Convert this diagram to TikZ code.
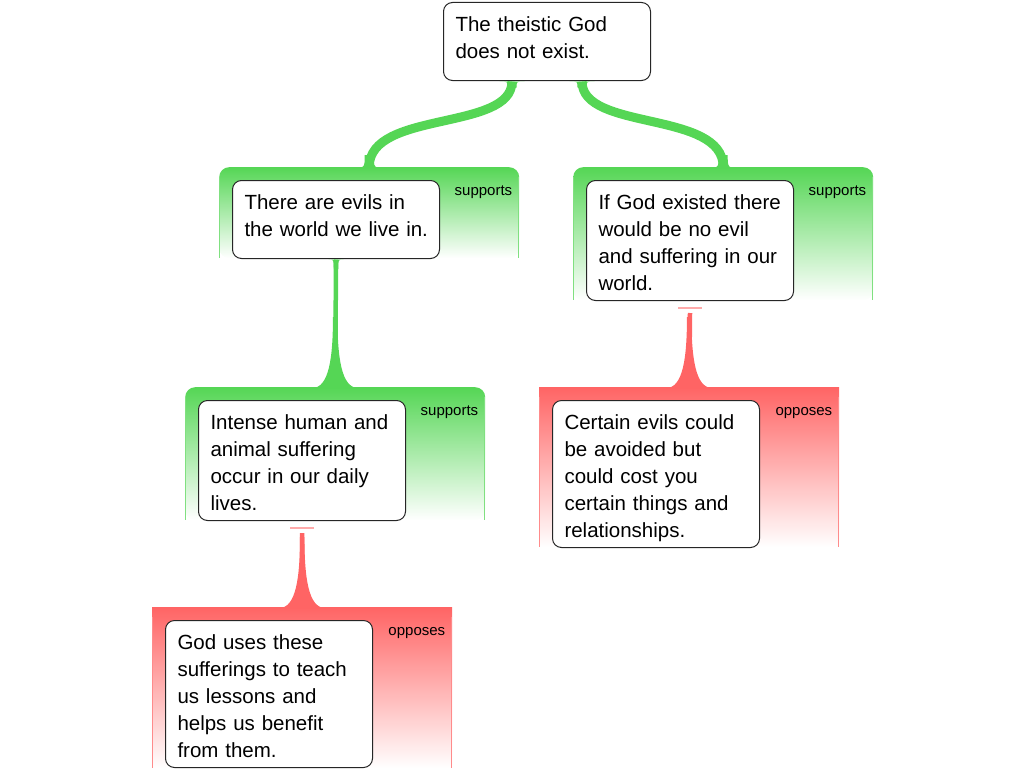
\documentclass[tikz,border=0pt]{standalone}
\usepackage{fontspec}
\setmainfont{Liberation Sans}
\usepackage{tikz}
\definecolor{supgreen}{RGB}{85,214,85}
\definecolor{oppred}{RGB}{255,100,100}
\newcommand{\boxfont}{\fontsize{20.5}{27}\selectfont}
\newcommand{\tagfont}{\fontsize{15}{18}\selectfont}
\newcommand{\topgap}{\rule{0pt}{24pt}}
\newcommand{\botgap}[1][5pt]{\rule[-#1]{0pt}{#1}}

\begin{document}
\begin{tikzpicture}[x=1pt,y=-1pt,
	argbox/.style={draw=black!85,line width=1pt,fill=white,rounded corners=9,anchor=north west,text width=183,align=left,inner xsep=12,inner ysep=5,minimum height=78,font=\boxfont},
	panel/.style={anchor=north west,minimum width=300,inner sep=0},
	suppanel/.style={panel,top color=supgreen,bottom color=white,rounded corners=10},
	opppanel/.style={panel,top color=oppred,bottom color=white},
	tag/.style={anchor=base east,inner sep=0,font=\tagfont},
	supline/.style={draw=supgreen,line width=9},
	tbar/.style={draw=oppred!55,line width=2}]
	\useasboundingbox (0,0) rectangle (1024,768);

	% panels behind the claims
	\node[suppanel,minimum height=91] (p1) at (219,167) {};
	\node[suppanel,minimum height=133] (p2) at (573,167) {};
	\node[suppanel,minimum height=133] (p3) at (185,387) {};
	\node[opppanel,minimum height=161] (p4) at (152,607) {};
	\node[opppanel,minimum height=160] (p5) at (539,387) {};
	\foreach \p/\c in {p1/supgreen,p2/supgreen,p3/supgreen,p4/oppred,p5/oppred}{
		\draw[draw=\c!75,line width=1] ([shift={(0.5,10)}]\p.north west) -- ([shift={(0.5,0)}]\p.south west);
		\draw[draw=\c!75,line width=1] ([shift={(-0.5,10)}]\p.north east) -- ([shift={(-0.5,0)}]\p.south east);
	}
	\foreach \p/\t in {p1/supports,p2/supports,p3/supports,p4/opposes,p5/opposes}
		\node[tag] (\p-tag) at ([shift={(-7,28)}]\p.north east) {\t};

	\node[argbox] (claim) at (443,2) {\topgap The theistic God\\does not exist.\botgap[17pt]};
	\node[argbox] (evils) at ([shift={(13,13)}]p1.north west) {\topgap There are evils in\\\mbox{the world we live in.}\botgap[17pt]};
	\node[argbox] (nogod) at ([shift={(13,13)}]p2.north west) {\topgap \mbox{If God existed there}\\would be no evil\\and suffering in our\\world.\botgap};
	\node[argbox] (pain) at ([shift={(13,13)}]p3.north west) {\topgap Intense human and\\animal suffering\\occur in our daily\\lives.\botgap};
	\node[argbox] (teach) at ([shift={(13,13)}]p4.north west) {\topgap God uses these\\sufferings to teach\\us lessons and\\helps us benefit\\from them.\botgap};
	\node[argbox] (cost) at ([shift={(13,13)}]p5.north west) {\topgap Certain evils could\\be avoided but\\could cost you\\certain things and\\relationships.\botgap};

	% supports links
	\coordinate (ct1) at ([shift={(-35,0.5)}]claim.south);
	\coordinate (ct2) at ([shift={(35,0.5)}]claim.south);
	\draw[supline] (ct1) .. controls +(0,50) and +(0,-57) .. (p1.north);
	\draw[supline] (ct2) .. controls +(0,50) and +(0,-57) .. (p2.north);
	\foreach \c in {ct1,ct2}
		\fill[supgreen,shift={(\c)}] (-12.5,0) .. controls (-4.5,0) .. (-4.5,6) -- (4.5,6) .. controls (4.5,0) .. (12.5,0) -- cycle;
	\foreach \p in {p1,p2}
		\fill[supgreen,shift={(\p.north)}] (-17,1) .. controls (-4.5,1) .. (-4.5,-12) -- (4.5,-12) .. controls (4.5,1) .. (17,1) -- cycle;

	\draw[supgreen,line width=4.5] ([shift={(0,0.5)}]evils.south) -- (p3.north);
	\fill[supgreen,shift={(evils.south)}] (-7.5,0.5) .. controls (-2.25,0.5) .. (-2.25,10) -- (2.25,10) .. controls (2.25,0.5) .. (7.5,0.5) -- cycle;

	% opposes links
	\draw[tbar] ([shift={(-12,7)}]pain.south) -- ([shift={(12,7)}]pain.south);
	\draw[oppred,line width=4.5] ([shift={(0,12)}]pain.south) -- (p4.north);
	\draw[tbar] ([shift={(-12,7)}]nogod.south) -- ([shift={(12,7)}]nogod.south);
	\draw[oppred,line width=4.5] ([shift={(0,12)}]nogod.south) -- (p5.north);

	\foreach \p/\c in {p3/supgreen,p4/oppred,p5/oppred}
		\fill[fill=\c,shift={(\p.north)}] (-23,1) .. controls (-6,1) and (-2.25,-30) .. (-2.25,-70) -- (2.25,-70) .. controls (2.25,-30) and (6,1) .. (23,1) -- cycle;
\end{tikzpicture}
\end{document}
